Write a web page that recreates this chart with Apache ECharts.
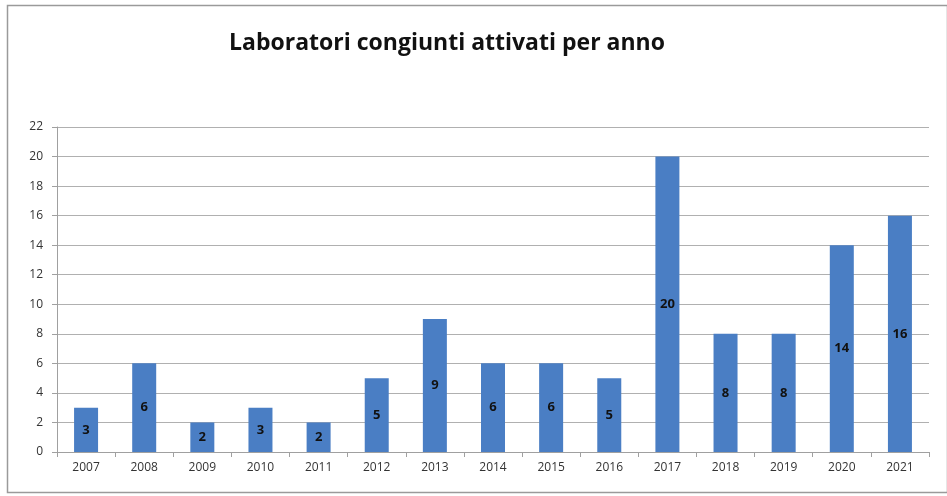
<!DOCTYPE html>
<html>
<head>
<meta charset="utf-8">
<script src="https://cdn.jsdelivr.net/npm/echarts@6/dist/echarts.min.js"></script>
<style>
  html, body { margin: 0; padding: 0; background: #fff; }
  #chart { width: 947px; height: 496px; }
</style>
</head>
<body>
<div id="chart"></div>
<script>
var years = ['2007','2008','2009','2010','2011','2012','2013','2014','2015','2016','2017','2018','2019','2020','2021'];
var labs = [3, 6, 2, 3, 2, 5, 9, 6, 6, 5, 20, 8, 8, 14, 16];
var yTicks = [0, 22, 2]; // min, max, step

var myChart = echarts.init(document.getElementById('chart'));

var option = {
    backgroundColor: '#fff',
    animation: false,
    title: {
        text: 'Laboratori congiunti attivati per anno',
        left: 442,
        top: 27,
        textAlign: 'center',
        textStyle: {
            fontFamily: 'Open Sans',
            fontWeight: 'bold',
            fontSize: 23,
            color: '#111'
        }
    },
    graphic: [{
        type: 'rect',
        shape: { x: 7.5, y: 5.5, width: 940, height: 487 },
        style: { fill: 'none', stroke: '#9a9a9a', lineWidth: 1.5 },
        silent: true
    }],
    grid: {
        left: 57,
        right: 18,
        top: 127,
        bottom: 44
    },
    xAxis: {
        type: 'category',
        data: years,
        axisLine: { lineStyle: { color: '#a0a0a0' } },
        axisTick: { show: true, alignWithLabel: false, length: 5, lineStyle: { color: '#a0a0a0' } },
        axisLabel: { color: '#333', fontSize: 12, fontFamily: 'Open Sans', margin: 10 }
    },
    yAxis: {
        type: 'value',
        min: yTicks[0],
        max: yTicks[1],
        interval: yTicks[2],
        axisLine: { show: true, lineStyle: { color: '#a0a0a0' } },
        axisTick: { show: true, length: 5, lineStyle: { color: '#a0a0a0' } },
        axisLabel: { color: '#333', fontSize: 12, fontFamily: 'Open Sans', margin: 14 },
        splitLine: { lineStyle: { color: '#b0b0b0' } }
    },
    series: [{
        type: 'bar',
        data: labs,
        barWidth: 24,
        itemStyle: { color: '#4a7ec4' },
        label: {
            show: true,
            position: 'inside',
            color: '#111',
            fontWeight: 'bold',
            fontSize: 13,
            fontFamily: 'Open Sans'
        }
    }]
};
myChart.setOption(option);
</script>
</body>
</html>
